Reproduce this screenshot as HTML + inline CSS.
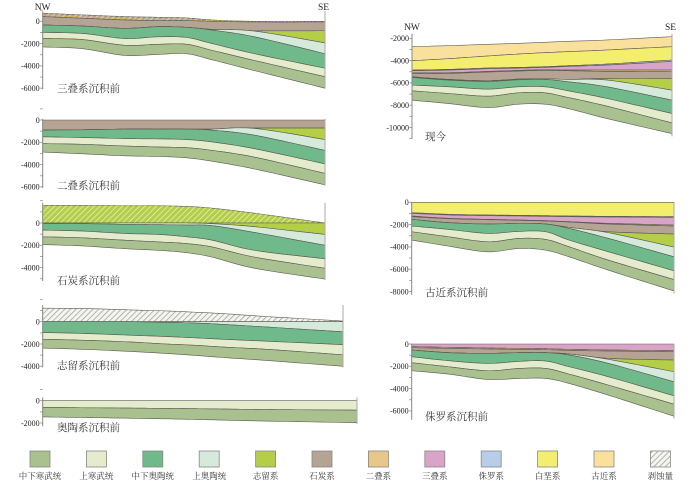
<!DOCTYPE html>
<html><head><meta charset="utf-8"><style>
html,body{margin:0;padding:0;background:#fff;}
svg{display:block;}
text{font-family:"Liberation Serif","Noto Serif CJK SC","Noto Sans CJK SC",serif;}
</style></head><body>
<svg id="fig" width="700" height="482" viewBox="0 0 700 482" xmlns="http://www.w3.org/2000/svg">
<defs>
<pattern id="hatchGray" patternUnits="userSpaceOnUse" width="4" height="4" patternTransform="rotate(45)"><rect width="4" height="4" fill="#f4f4f0"/><line x1="0" y1="0" x2="0" y2="4" stroke="#9a9a92" stroke-width="1.4"/></pattern>
<pattern id="hatchWhite" patternUnits="userSpaceOnUse" width="4" height="4" patternTransform="rotate(45)"><line x1="0" y1="0" x2="0" y2="4" stroke="#ffffff" stroke-width="1.3" stroke-opacity="0.8"/></pattern>
</defs>
<g id="panels"></g>
<g id="legend"></g>
</svg>
<script>
const xFrac = [0, 0.14, 0.29, 0.41, 0.51, 0.6, 0.75, 1];
const legendNames = ["中下寒武统","上寒武统","中下奥陶统","上奥陶统","志留系","石炭系","二叠系","三叠系","侏罗系","白垩系","古近系","剥蚀量"];
const legendColors = ["#A9C08F","#E5EBCD","#6FB98B","#D6EADC","#B4CE48","#B5A393","#E8C88A","#DAA3C8","#B7CDE8","#F3EE6E","#FAE09D","hatch"];
const C = {mlc:"#A9C08F",uc:"#E5EBCD",mlo:"#6FB98B",uo:"#D6EADC",sil:"#B4CE48",carb:"#B5A393",perm:"#E8C88A",tri:"#DAA3C8",jur:"#B7CDE8",cre:"#F3EE6E",pal:"#FAE09D"};

// Panel 1: before Triassic (depth in m)
const p1Bounds = [
 [727,576,424,364,303,121,0,0],
 [424,273,121,61,61,0,-61,-61],
 [-333,-424,-636,-485,-545,-727,-848,-848],
 [-333,-424,-636,-485,-545,-727,-879,-1939],
 [-333,-424,-636,-485,-545,-788,-1394,-2909],
 [-1000,-1091,-1545,-1394,-1454,-2000,-2909,-4212],
 [-1545,-1636,-2151,-2060,-2060,-2606,-3515,-4969],
 [-2303,-2454,-3060,-2969,-2909,-3454,-4424,-5999]];
const p1Layers = ["carbHatch","carb","sil","uo","mlo","uc","mlc"];
// Panel 2: before Permian
const p2Bounds = [
 [0,0,0,0,0,0,0,0],
 [-909,-879,-818,-818,-818,-818,-727,-727],
 [-909,-879,-818,-818,-818,-818,-758,-1758],
 [-909,-879,-818,-818,-818,-909,-1364,-2727],
 [-1515,-1576,-1667,-1697,-1758,-1970,-2576,-3939],
 [-2121,-2182,-2333,-2424,-2485,-2727,-3333,-4788],
 [-2879,-3030,-3212,-3273,-3394,-3697,-4394,-5818]];
const p2Layers = ["carb","sil","uo","mlo","uc","mlc"];
// Panel 3: before Carboniferous
const p3Bounds = [
 [1576,1576,1545,1545,1485,1333,879,0],
 [0,0,0,0,0,0,0,0],
 [0,0,0,0,0,-61,-333,-1030],
 [-61,-61,-121,-152,-182,-242,-848,-2000],
 [-636,-727,-939,-1030,-1242,-1545,-2454,-3212],
 [-1242,-1333,-1545,-1697,-1848,-2151,-3060,-4060],
 [-1939,-2060,-2303,-2454,-2666,-3060,-4060,-5030]];
const p3Layers = ["silHatch","sil","uo","mlo","uc","mlc"];
// Panel 4: before Silurian
const p4Bounds = [
 [1212,1182,1060,970,848,727,455,61],
 [0,0,0,0,0,0,0,0],
 [0,0,0,-61,-121,-242,-485,-909],
 [-970,-1060,-1212,-1333,-1454,-1576,-1758,-2060],
 [-1576,-1667,-1818,-2000,-2121,-2273,-2485,-2970],
 [-2363,-2485,-2666,-2848,-3030,-3212,-3485,-4000]];
const p4Layers = ["erosion","uo","mlo","uc","mlc"];
// Panel 5: before Ordovician
const p5Bounds = [
 [0,0,0,0,0,0,0,0],
 [-606,-636,-666,-697,-727,-758,-800,-848],
 [-1454,-1515,-1576,-1636,-1697,-1758,-1850,-1970]];
const p5Layers = ["uc","mlc"];
// Right 1: present
const r1Bounds = [
 [-2750,-2660,-2540,-2450,-2360,-2270,-2150,-1850],
 [-4010,-3830,-3590,-3410,-3290,-3200,-3050,-2750],
 [-4850,-4790,-4670,-4610,-4550,-4460,-4310,-3950],
 [-4910,-4850,-4730,-4670,-4610,-4520,-4400,-4070],
 [-5090,-5090,-4970,-4880,-4820,-4850,-4850,-4850],
 [-5150,-5150,-5030,-4940,-4880,-4910,-4970,-5000],
 [-5450,-5690,-5810,-5660,-5630,-5690,-5600,-5600],
 [-5450,-5690,-5810,-5660,-5630,-5690,-5750,-6650],
 [-5510,-5750,-5870,-5720,-5690,-5900,-6350,-7550],
 [-6200,-6350,-6560,-6350,-6350,-6710,-7400,-8750],
 [-6710,-6950,-7190,-6890,-6890,-7310,-8090,-9590],
 [-7550,-7850,-8210,-7910,-7910,-8300,-9200,-10550]];
const r1Layers = ["pal","cre","jur","tri","perm","carb","sil","uo","mlo","uc","mlc"];
// Right 2: before Paleogene
const r2Bounds = [
 [0,0,0,0,0,0,0,0],
 [-930,-1080,-1140,-1170,-1200,-1230,-1260,-1290],
 [-990,-1140,-1200,-1230,-1260,-1290,-1320,-1350],
 [-1230,-1440,-1530,-1590,-1650,-1740,-1890,-2040],
 [-1290,-1470,-1560,-1620,-1680,-1770,-1950,-2130],
 [-1530,-1830,-1950,-1890,-1950,-2250,-2640,-2850],
 [-1530,-1830,-1950,-1890,-1950,-2250,-2730,-4020],
 [-1530,-1830,-1950,-1890,-1950,-2340,-3240,-4890],
 [-2130,-2430,-2790,-2610,-2640,-3390,-4440,-6150],
 [-2640,-3090,-3540,-3240,-3330,-3990,-5190,-6930],
 [-3390,-3930,-4440,-4140,-4290,-4890,-6090,-7950]];
const r2Layers = ["cre","jur","tri","perm","carb","sil","uo","mlo","uc","mlc"];
// Right 3: before Jurassic
const r3Bounds = [
 [0,0,0,0,0,0,0,0],
 [-240,-300,-360,-390,-420,-480,-540,-600],
 [-330,-390,-450,-480,-510,-570,-630,-690],
 [-540,-780,-840,-780,-780,-900,-1290,-1440],
 [-540,-780,-840,-780,-780,-900,-1380,-2490],
 [-540,-780,-840,-780,-780,-990,-1740,-3390],
 [-1140,-1500,-1740,-1560,-1530,-2040,-2940,-4650],
 [-1680,-2040,-2400,-2190,-2190,-2700,-3690,-5400],
 [-2400,-2700,-3180,-3090,-3090,-3540,-4590,-6480]];
const r3Layers = ["tri","perm","carb","sil","uo","mlo","uc","mlc"];

const p1Ticks = [0,-2000,-4000,-6000];
const p2Ticks = [0,-2000,-4000,-6000];
const p3Ticks = [0,-2000,-4000];
const p4Ticks = [0,-2000,-4000];
const p5Ticks = [0,-2000];
const r1Ticks = [-2000,-4000,-6000,-8000,-10000];
const r2Ticks = [0,-2000,-4000,-6000,-8000];
const r3Ticks = [0,-2000,-4000,-6000];

const NS = "http://www.w3.org/2000/svg";
const K = 22.3/2000;
function mk(tag, attrs, parent){const e=document.createElementNS(NS,tag);for(const k in attrs)e.setAttribute(k,attrs[k]);parent.appendChild(e);return e;}

function smooth(pts){ // catmull-rom sampling for rendering only
  const out=[];
  for(let i=0;i<pts.length-1;i++){
    const p0=pts[Math.max(i-1,0)],p1=pts[i],p2=pts[i+1],p3=pts[Math.min(i+2,pts.length-1)];
    for(let t=0;t<1;t+=0.125){
      const t2=t*t,t3=t2*t;
      const f=(a,b,c,d)=>0.5*((2*b)+(-a+c)*t+(2*a-5*b+4*c-d)*t2+(-a+3*b-3*c+d)*t3);
      out.push([f(p0[0],p1[0],p2[0],p3[0]),f(p0[1],p1[1],p2[1],p3[1])]);
    }
  }
  out.push(pts[pts.length-1]);
  return out;
}

const panelsG=document.getElementById('panels');
function panel(cfg){
  const g=mk('g',{},panelsG);
  
  
  const xS=f=>cfg.x0+f*(cfg.x1-cfg.x0);
  const yS=d=>cfg.y0-d*K;
  const lines=cfg.bounds.map(b=>smooth(b.map((d,i)=>[xS(xFrac[i]),yS(d)])));
  cfg.layers.forEach((lay,i)=>{
    const top=lines[i],bot=lines[i+1];
    const pts=top.concat(bot.slice().reverse()).map(p=>p[0].toFixed(2)+','+p[1].toFixed(2)).join(' ');
    let fill;
    if(lay==='carbHatch')fill=C.carb;else if(lay==='silHatch')fill=C.sil;else if(lay==='erosion')fill='url(#hatchGray)';else fill=C[lay];
    const poly=mk('polygon',{points:pts,fill:fill,stroke:'#5a5a50','stroke-width':'0.6','stroke-linejoin':'round'},g);
    
    
    if(lay==='carbHatch'||lay==='silHatch'){
      const h=mk('polygon',{points:pts,fill:'url(#hatchWhite)',stroke:'none'},g);
      
      
    }
    if(lay==='carbHatch'){
      const mid=top.map((p,j)=>[p[0],(p[1]*0.35+bot[j][1]*0.65)]);
      const pl=mk('polyline',{points:mid.map(p=>p[0].toFixed(2)+','+p[1].toFixed(2)).join(' '),fill:'none',stroke:'#E8B830','stroke-width':'1','stroke-dasharray':'2 1.5'},g);
      
      
    }
  });
  // axes
  const yTop=yS(cfg.axMax),yBot=yS(cfg.axMin);
  const ax=mk('line',{x1:cfg.x0,y1:yTop,x2:cfg.x0,y2:yBot,stroke:'#888','stroke-width':'1'},g);
  
  
  const rax=mk('line',{x1:cfg.x1,y1:yTop,x2:cfg.x1,y2:yS(cfg.rMin),stroke:'#aaa','stroke-width':'1'},g);
  
  
  for(let d=Math.ceil(cfg.axMax/1000)*1000; d>=cfg.axMin; d-=1000){
    mk('line',{x1:cfg.x0-2.5,y1:yS(d),x2:cfg.x0,y2:yS(d),stroke:'#888','stroke-width':'0.8'},g);
  }
  cfg.ticks.forEach(t=>{
    const tx=mk('text',{x:cfg.x0-3,y:yS(t)+2.8,'font-size':'8','text-anchor':'end',fill:'#222','font-family':'Liberation Sans, sans-serif'},g);
    tx.textContent=String(t);
    
    
  });
  const lb=mk('text',{x:cfg.lx,y:cfg.ly,'font-size':'10.5',fill:'#333'},g);
  lb.textContent=cfg.title;
  
  
  if(cfg.nw){
    const a=mk('text',{x:cfg.x0-8,y:cfg.nw,'font-size':'9.5',fill:'#222'},g);a.textContent='NW';
    
    
    const b=mk('text',{x:cfg.x1-7,y:cfg.nw,'font-size':'9.5',fill:'#222'},g);b.textContent='SE';
    
    
  }
}
panel({name:'panel-pre-triassic',x0:42.7,x1:325,y0:21.3,bounds:p1Bounds,layers:p1Layers,ticks:p1Ticks,axMax:900,axMin:-6100,rMin:-6000,title:'三叠系沉积前',lx:57,ly:92,nw:10});
panel({name:'panel-pre-permian',x0:42.7,x1:325,y0:120,bounds:p2Bounds,layers:p2Layers,ticks:p2Ticks,axMax:100,axMin:-6100,rMin:-5900,title:'二叠系沉积前',lx:57,ly:189});
panel({name:'panel-pre-carboniferous',x0:42.7,x1:325,y0:223,bounds:p3Bounds,layers:p3Layers,ticks:p3Ticks,axMax:1800,axMin:-5200,rMin:-5100,title:'石炭系沉积前',lx:57,ly:284});
panel({name:'panel-pre-silurian',x0:42.7,x1:343,y0:321.7,bounds:p4Bounds,layers:p4Layers,ticks:p4Ticks,axMax:1500,axMin:-4100,rMin:-4100,title:'志留系沉积前',lx:57,ly:369});
panel({name:'panel-pre-ordovician',x0:42.7,x1:357,y0:400.7,bounds:p5Bounds,layers:p5Layers,ticks:p5Ticks,axMax:300,axMin:-2300,rMin:-2100,title:'奥陶系沉积前',lx:57,ly:431});
panel({name:'panel-present',x0:412,x1:672,y0:16,bounds:r1Bounds,layers:r1Layers,ticks:r1Ticks,axMax:-1600,axMin:-11000,rMin:-10800,title:'现今',lx:425,ly:140,nw:30});
panel({name:'panel-pre-paleogene',x0:411.7,x1:674,y0:202.3,bounds:r2Bounds,layers:r2Layers,ticks:r2Ticks,axMax:0,axMin:-8300,rMin:-8200,title:'古近系沉积前',lx:425,ly:296});
panel({name:'panel-pre-jurassic',x0:411.7,x1:674,y0:344,bounds:r3Bounds,layers:r3Layers,ticks:r3Ticks,axMax:0,axMin:-6800,rMin:-6700,title:'侏罗系沉积前',lx:425,ly:420});

const lg=document.getElementById('legend');


legendNames.forEach((n,i)=>{
  const cx=40+i*56.4;
  const g=mk('g',{},lg);
  
  
  const fill=legendColors[i]==='hatch'?'url(#hatchGray)':legendColors[i];
  mk('rect',{x:cx-10,y:451,width:20,height:16,fill:fill,stroke:'#888','stroke-width':'0.8'},g);
  const t=mk('text',{x:cx,y:479,'font-size':'8.5','text-anchor':'middle',fill:'#333'},g);
  t.textContent=n;
});
</script>
</body></html>
